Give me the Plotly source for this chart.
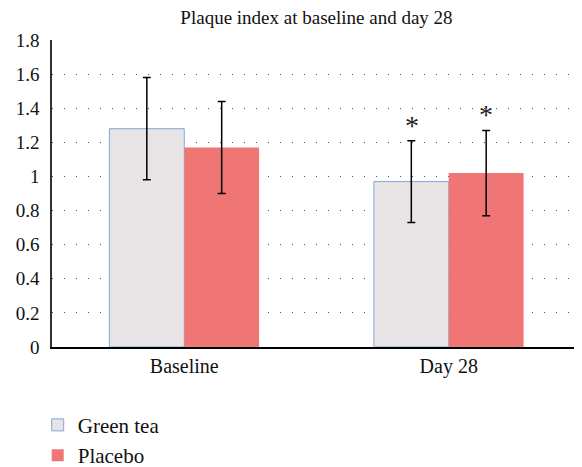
import plotly.graph_objects as go

categories = ["Baseline", "Day 28"]
green_tea = [1.28, 0.97]
green_tea_err = [0.30, 0.24]
placebo = [1.17, 1.02]
placebo_err = [0.27, 0.25]
star_labels = ["", "*"]
y_ticks = [0, 0.2, 0.4, 0.6, 0.8, 1, 1.2, 1.4, 1.6, 1.8]
y_tick_text = ["0", "0.2", "0.4", "0.6", "0.8", "1", "1.2", "1.4", "1.6", "1.8"]

FONT = "Liberation Serif"
W, H = 574, 459  # page body has an 8px margin

fig = go.Figure()
fig.add_trace(go.Bar(
    x=categories, y=green_tea, name="Green tea",
    marker=dict(color="#E8E4E6", line=dict(color="#7FA6DC", width=1)),
    error_y=dict(type="data", array=green_tea_err, color="black", thickness=1.5, width=4),
    offsetgroup="a",
))
fig.add_trace(go.Bar(
    x=categories, y=placebo, name="Placebo",
    marker=dict(color="#F07676", line=dict(color="#F07676", width=0)),
    error_y=dict(type="data", array=placebo_err, color="black", thickness=1.5, width=4),
    offsetgroup="b",
))

# significance stars above day-28 error bars
for i, cat in enumerate(categories):
    if star_labels[i]:
        fig.add_annotation(x=cat, y=green_tea[i] + green_tea_err[i], text=star_labels[i],
                           xshift=-37, yshift=-2, showarrow=False, yanchor="bottom",
                           font=dict(family=FONT, size=28, color="#222"))
        fig.add_annotation(x=cat, y=placebo[i] + placebo_err[i], text=star_labels[i],
                           xshift=37, yshift=-2, showarrow=False, yanchor="bottom",
                           font=dict(family=FONT, size=28, color="#222"))

fig.update_layout(
    width=W, height=H,
    margin=dict(l=44, r=1, t=32, b=120, autoexpand=False),
    paper_bgcolor="white", plot_bgcolor="white",
    barmode="group", bargap=0.434, bargroupgap=0,
    title=dict(text="Plaque index at baseline and day 28", xref="paper", x=0.5,
               xanchor="center", y=1 - 9 / H, yanchor="middle",
               font=dict(family=FONT, size=19, color="#111")),
    font=dict(family=FONT, size=19, color="#111"),
    legend=dict(x=-0.027, xanchor="left", y=-0.188, yanchor="top",
                font=dict(family=FONT, size=21, color="#111"),
                bgcolor="rgba(0,0,0,0)", tracegroupgap=0),
    xaxis=dict(showline=True, linecolor="black", linewidth=1.5, ticks="",
               tickfont=dict(family=FONT, size=20), showgrid=False),
    yaxis=dict(range=[0, 1.8], tickvals=y_ticks, ticktext=y_tick_text,
               showline=True, linecolor="#333", linewidth=1.5, ticks="",
               ticklabelstandoff=7,
               showgrid=True, gridcolor="#555", gridwidth=1, griddash="1px,11px",
               zeroline=False, tickfont=dict(family=FONT, size=19)),
)

fig.write_html("out.html")
